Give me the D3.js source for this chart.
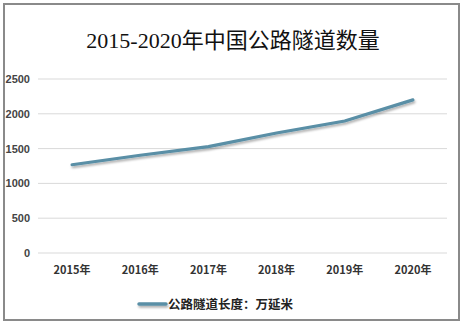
<html>
<script src="https://cdnjs.cloudflare.com/ajax/libs/d3/7.8.5/d3.min.js"></script>
<body style="margin:0">
<svg width=464 height=325></svg>
<script>
const years = ["2015年", "2016年", "2017年", "2018年", "2019年", "2020年"];
const tunnelLength = [1268, 1404, 1529, 1724, 1897, 2200];
const yTicks = [0, 500, 1000, 1500, 2000, 2500];
const lineColor = "#5a8fa6";

const svg = d3.select("svg");
const margin = {top: 79, right: 17, bottom: 72, left: 38};
const width = 464, height = 325;

svg.append("rect")
  .attr("x", 4).attr("y", 4)
  .attr("width", 455).attr("height", 316)
  .attr("fill", "#fff")
  .attr("stroke", "#8a8a8a")
  .attr("stroke-width", 2);

svg.append("text")
  .attr("x", 233).attr("y", 48)
  .attr("text-anchor", "middle")
  .style("font-family", "'Liberation Serif', 'Noto Sans CJK SC', serif")
  .style("font-size", "22px")
  .attr("fill", "#111")
  .text("2015-2020年中国公路隧道数量");

const x = d3.scaleBand()
  .domain(years)
  .range([margin.left, width - margin.right]);
const y = d3.scaleLinear()
  .domain([0, 2500])
  .range([height - margin.bottom, margin.top]);

// gridlines
svg.append("g")
  .selectAll("line")
  .data(yTicks)
  .join("line")
  .attr("x1", margin.left).attr("x2", width - margin.right)
  .attr("y1", d => y(d)).attr("y2", d => y(d))
  .attr("stroke", "#d9d9d9");

const yAxis = svg.append("g")
  .attr("transform", `translate(30,0)`)
  .call(d3.axisLeft(y).tickValues(yTicks).tickFormat(d3.format("d")).tickSize(0).tickPadding(0));
yAxis.select(".domain").remove();
yAxis.selectAll("text")
  .style("font-family", "'Liberation Sans', Arial, sans-serif")
  .style("font-size", "11px")
  .style("font-weight", "bold")
  .attr("fill", "#444");

const xAxis = svg.append("g")
  .attr("transform", `translate(0,${height - margin.bottom + 10})`)
  .call(d3.axisBottom(x).tickSize(0).tickPadding(3));
xAxis.select(".domain").remove();
xAxis.selectAll("text")
  .style("font-family", "'Noto Sans CJK SC', sans-serif")
  .style("font-size", "11px")
  .style("font-weight", "bold")
  .attr("fill", "#333");

const defs = svg.append("defs");
const f = defs.append("filter").attr("id", "shadow")
  .attr("filterUnits", "userSpaceOnUse")
  .attr("x", 0).attr("y", 0).attr("width", width).attr("height", height);
f.append("feDropShadow")
  .attr("dx", 1).attr("dy", 2).attr("stdDeviation", 1)
  .attr("flood-color", "#000").attr("flood-opacity", 0.3);

const line = d3.line()
  .x((d, i) => x(years[i]) + x.bandwidth() / 2)
  .y(d => y(d));

svg.append("path")
  .datum(tunnelLength)
  .attr("d", line)
  .attr("fill", "none")
  .attr("stroke", lineColor)
  .attr("stroke-width", 3.2)
  .attr("stroke-linecap", "round")
  .attr("filter", "url(#shadow)");

// legend
svg.append("line")
  .attr("x1", 139).attr("x2", 166)
  .attr("y1", 304).attr("y2", 304)
  .attr("stroke", lineColor)
  .attr("stroke-width", 3.5)
  .attr("stroke-linecap", "round")
  .attr("filter", "url(#shadow)");
svg.append("text")
  .attr("x", 168).attr("y", 309)
  .style("font-family", "'Noto Sans CJK SC', sans-serif")
  .style("font-size", "12.5px")
  .style("font-weight", "bold")
  .attr("fill", "#222")
  .text("公路隧道长度：万延米");
</script>
</body>
</html>
